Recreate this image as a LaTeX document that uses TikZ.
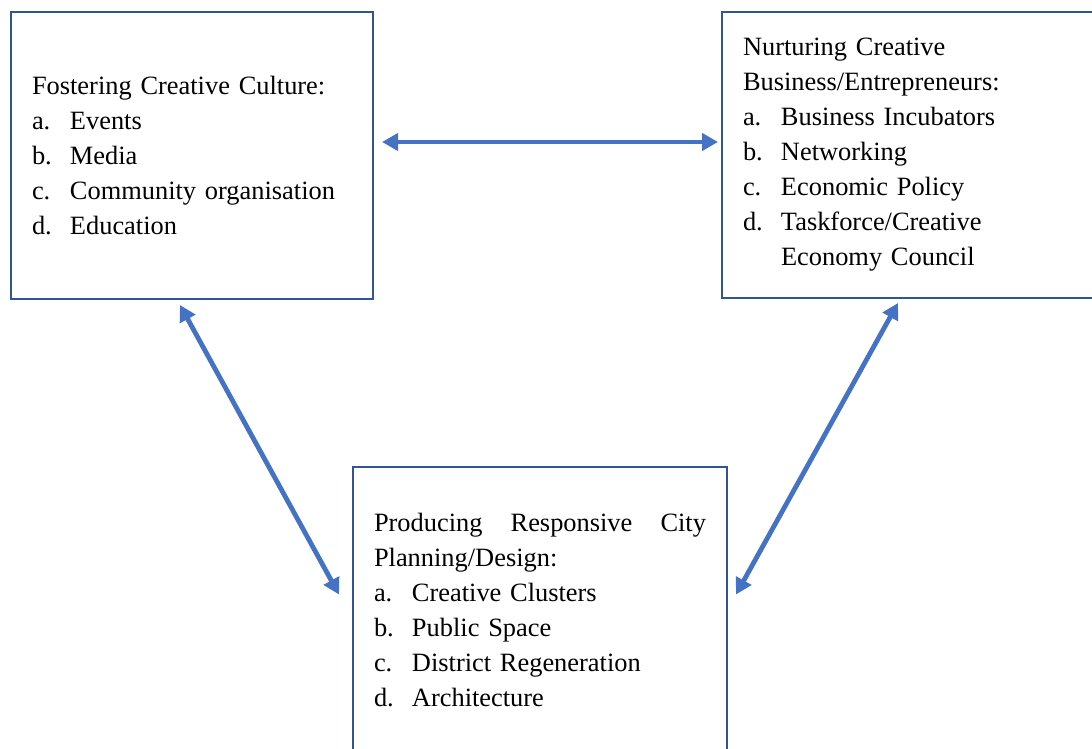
\documentclass[tikz,border=0pt]{standalone}
\usepackage{fontspec}
\setmainfont{Liberation Serif}
\usetikzlibrary{arrows.meta}
\definecolor{boxblue}{RGB}{47,85,151}
\definecolor{arrowblue}{RGB}{68,114,196}
\newcommand{\itm}[2]{\makebox[38pt][l]{#1}#2}

\begin{document}
\begin{tikzpicture}[x=1pt, y=-1pt,
 box/.style args = {#1/#2}{%
      rectangle, draw=boxblue, line width=2pt,
      text width=#1, minimum height=#2, inner xsep=21pt,
      align=left, anchor=north west,
      font=\fontsize{26.4}{35}\selectfont},
 link/.style = {draw=arrowblue, line width=4.8pt,
      {Triangle[length=16pt,width=17pt]}-{Triangle[length=16pt,width=17pt]}}
                    ]
\useasboundingbox (0,0) rectangle (1092,749);
\node(A) [box=320pt/287pt] at (10,11) {Fostering Creative Culture:\\
    \itm{a.}{Events}\\ \itm{b.}{Media}\\
    \itm{c.}{Community organisation}\\ \itm{d.}{Education}};
\node(B) [box=360pt/286pt] at (721,11) {Nurturing Creative\\
    Business/Entrepreneurs:\\
    \itm{a.}{Business Incubators}\\ \itm{b.}{Networking}\\
    \itm{c.}{Economic Policy}\\ \itm{d.}{Taskforce/Creative}\\
    \hspace*{38pt}Economy Council};
\node(C) [box=332pt/287pt] at (352,466) {%
    \makebox[332pt][s]{Producing\hfill Responsive\hfill City}\\
    Planning/Design:\\
    \itm{a.}{Creative Clusters}\\ \itm{b.}{Public Space}\\
    \itm{c.}{District Regeneration}\\ \itm{d.}{Architecture}};
%
\path[link] ([shift={(8,-13.5)}]A.east) -- ([shift={(-3,-13)}]B.west);
\path[link] ([shift={(-12,5)}]A.south) -- ([shift={(-13,-16)}]C.west);
\path[link] ([shift={(177,4)}]B.south west) -- ([shift={(8,-16)}]C.east);
\end{tikzpicture}
\end{document}
